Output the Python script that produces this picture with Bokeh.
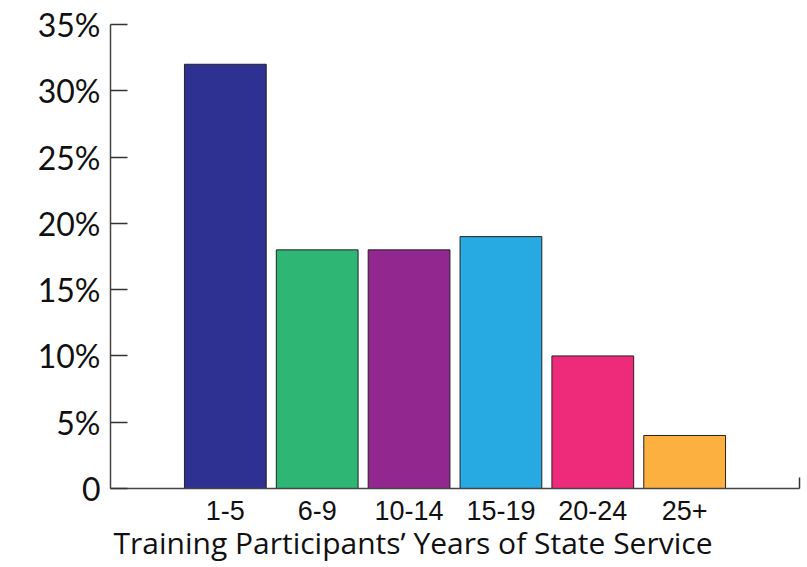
from bokeh.plotting import figure
from bokeh.models import ColumnDataSource, FixedTicker, Range1d, Title
from bokeh.embed import file_html
from bokeh.resources import INLINE

categories = ["1-5", "6-9", "10-14", "15-19", "20-24", "25+"]
values = [32, 18, 18, 19, 10, 4]
colors = ["#2E3192", "#2DB674", "#92278F", "#27AAE1", "#EE2A7B", "#FBB040"]
y_ticks = [0, 5, 10, 15, 20, 25, 30, 35]
y_labels = ["0", "5%", "10%", "15%", "20%", "25%", "30%", "35%"]
x_title = "Training Participants\u2019 Years of State Service"

xs = list(range(len(categories)))
src = ColumnDataSource(dict(x=xs, top=values, color=colors))

x_start = -1.25
x_end = len(categories) - 1 + 1.25
p = figure(width=807, height=567, output_backend="svg", toolbar_location=None,
           x_range=Range1d(x_start, x_end), y_range=Range1d(0, 35),
           min_border_left=110, min_border_right=8, min_border_top=24, min_border_bottom=79)
p.outline_line_color = None
p.grid.grid_line_color = None
p.background_fill_color = "white"

p.vbar(x="x", top="top", width=0.89, fill_color="color", line_color="#222222", line_width=1, source=src)

# inward y ticks
p.yaxis.major_tick_in = 17
p.yaxis.major_tick_out = 0
p.yaxis.major_tick_line_color = "#333333"
p.yaxis.major_tick_line_width = 1.5

xt = FixedTicker(ticks=xs, minor_ticks=[x_end])
p.xaxis.ticker = xt
p.xaxis.major_label_overrides = {i: c for i, c in enumerate(categories)}
p.xaxis.major_tick_in = 0
p.xaxis.major_tick_out = 0
p.xaxis.minor_tick_in = 11
p.xaxis.minor_tick_out = 0
p.xaxis.minor_tick_line_color = "#333333"
p.xaxis.minor_tick_line_width = 1.5
p.xaxis.axis_line_color = "#444444"
p.xaxis.axis_line_width = 1.5
p.xaxis.major_label_text_font = "Liberation Sans"
p.xaxis.major_label_text_font_size = "27px"
p.xaxis.major_label_text_color = "#111111"
p.xaxis.major_label_standoff = 12

p.add_layout(Title(text=x_title, align="left", offset=3, text_font="Open Sans",
                   text_font_style="normal", text_font_size="30px", text_color="#111111",
                   standoff=-6), "below")

p.yaxis.ticker = FixedTicker(ticks=y_ticks, minor_ticks=[])
p.yaxis.major_label_overrides = {t: l for t, l in zip(y_ticks, y_labels)}
p.yaxis.axis_line_color = "#444444"
p.yaxis.axis_line_width = 1.5
p.yaxis.major_label_text_font = "Lato"
p.yaxis.major_label_text_font_size = "32px"
p.yaxis.major_label_text_color = "#111111"
p.yaxis.major_label_standoff = 10

open("out.html", "w").write(file_html(p, INLINE))
